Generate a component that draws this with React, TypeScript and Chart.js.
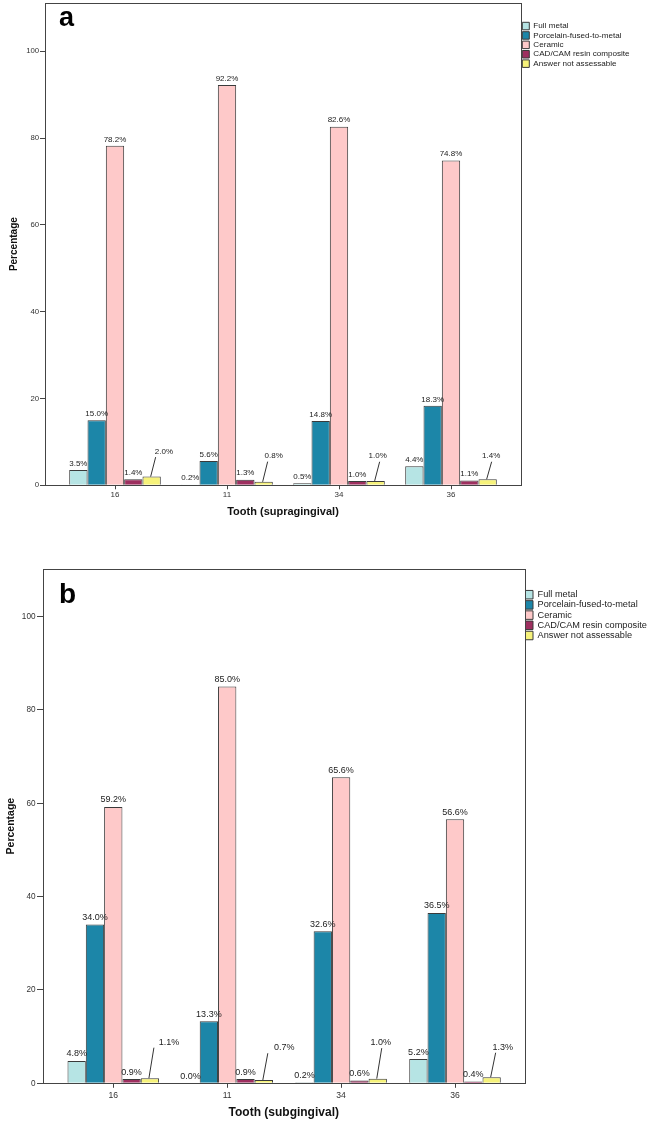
import React, { useEffect, useRef } from "react";
import { Chart, registerables } from "chart.js";

Chart.register(...registerables);
Chart.defaults.font.family = '"Liberation Sans", Arial, Helvetica, sans-serif';

// ---------- data ----------
const teeth = ["16", "11", "34", "36"];
const seriesNames = [
  "Full metal",
  "Porcelain-fused-to-metal",
  "Ceramic",
  "CAD/CAM resin composite",
  "Answer not assessable",
];
const yTickValues = [0, 20, 40, 60, 80, 100];

// panel a: supragingival
const supraFullMetal = [3.5, 0.2, 0.5, 4.4];
const supraPFM = [15.0, 5.6, 14.8, 18.3];
const supraCeramic = [78.2, 92.2, 82.6, 74.8];
const supraCadCam = [1.4, 1.3, 1.0, 1.1];
const supraNotAssessable = [2.0, 0.8, 1.0, 1.4];

// panel b: subgingival
const subFullMetal = [4.8, 0.0, 0.2, 5.2];
const subPFM = [34.0, 13.3, 32.6, 36.5];
const subCeramic = [59.2, 85.0, 65.6, 56.6];
const subCadCam = [0.9, 0.9, 0.6, 0.4];
const subNotAssessable = [1.1, 0.7, 1.0, 1.3];

// ---------- styles ----------
const seriesColors = ["#b6e4e4", "#1c86a8", "#fec9c9", "#9d2f5f", "#f6f27a"];
const outline = "#3a3a3a";
const textDark = "#222";

type Panel = {
  letter: string;
  xTitle: string;
  series: number[][];
  canvasW: number;
  canvasH: number;
  top: number;
  frameLeft: number;
  frameRight: number;
  frameBottom: number;
  xMin: number;
  xMax: number;
  yMax: number;
  catPct: number;
  tickFontX: number;
  tickFontY: number;
  xTickPad: number;
  xTickLen: number;
  yTickPad: number;
  yTickLen: number;
  xTitleFont: number;
  xTitlePadBottom: number;
  yTitleFont: number;
  yTitlePadTop: number;
  labelFont: number;
  labelGap: number;
  legendFont: number;
  legendPad: number;
  legendBoxW: number;
  legendBoxH: number;
  legendTitleH: number;
  callouts: number[][];
  letterFont: number;
  letterX: number;
  letterY: number;
};

const panelA: Panel = {
  letter: "a",
  xTitle: "Tooth (supragingival)",
  series: [supraFullMetal, supraPFM, supraCeramic, supraCadCam, supraNotAssessable],
  canvasW: 660,
  canvasH: 530,
  top: 3,
  frameLeft: 45,
  frameRight: 521,
  frameBottom: 485.3,
  xMin: -0.625,
  xMax: 3.625,
  yMax: 111.1,
  catPct: 0.818,
  tickFontX: 8,
  tickFontY: 7.8,
  xTickPad: 0.8,
  xTickLen: 4,
  yTickPad: 0.8,
  yTickLen: 5,
  xTitleFont: 11,
  xTitlePadBottom: 11.4,
  yTitleFont: 10,
  yTitlePadTop: 8,
  labelFont: 8,
  labelGap: 6.5,
  legendFont: 8.1,
  legendPad: 1.3,
  legendBoxW: 7,
  legendBoxH: 7.5,
  legendTitleH: 17.7,
  callouts: [
    [12.3, -25],
    [10, -25.7],
    [2, -24.7],
    [3.5, -23],
  ],
  letterFont: 27,
  letterX: 59,
  letterY: 26,
};

const panelB: Panel = {
  letter: "b",
  xTitle: "Tooth (subgingival)",
  series: [subFullMetal, subPFM, subCeramic, subCadCam, subNotAssessable],
  canvasW: 660,
  canvasH: 584,
  top: 29,
  frameLeft: 43,
  frameRight: 524.5,
  frameBottom: 543.3,
  xMin: -0.617,
  xMax: 3.61,
  yMax: 110.2,
  catPct: 0.804,
  tickFontX: 8.6,
  tickFontY: 8.2,
  xTickPad: 2.2,
  xTickLen: 4.5,
  yTickPad: 1.5,
  yTickLen: 6,
  xTitleFont: 12,
  xTitlePadBottom: 3.8,
  yTitleFont: 10.5,
  yTitlePadTop: 4.7,
  labelFont: 9,
  labelGap: 7,
  legendFont: 9.2,
  legendPad: 1.0,
  legendBoxW: 7.5,
  legendBoxH: 8.5,
  legendTitleH: 20.1,
  callouts: [
    [19, -36],
    [20.5, -32.3],
    [3, -36],
    [11, -30],
  ],
  letterFont: 28,
  letterX: 59,
  letterY: 63,
};

function makeChart(canvas: HTMLCanvasElement, cfg: Panel) {
  const decorPlugin = {
    id: "decor" + cfg.letter,
    afterDatasetsDraw(chart: any) {
      const ctx = chart.ctx;
      const area = chart.chartArea;
      ctx.save();
      // frame
      ctx.strokeStyle = "#444";
      ctx.lineWidth = 1;
      ctx.strokeRect(
        Math.round(area.left) + 0.5,
        Math.round(area.top) + 0.5,
        Math.round(area.right) - Math.round(area.left),
        Math.round(area.bottom) - Math.round(area.top)
      );
      // value labels
      ctx.font = `${cfg.labelFont}px "Liberation Sans", Arial, sans-serif`;
      ctx.fillStyle = textDark;
      ctx.textAlign = "center";
      ctx.textBaseline = "middle";
      chart.data.datasets.forEach((_ds: any, k: number) => {
        const meta = chart.getDatasetMeta(k);
        meta.data.forEach((el: any, i: number) => {
          const v = cfg.series[k][i];
          const text = v.toFixed(1) + "%";
          const x = el.x;
          const y = el.y;
          if (k === 4) {
            const [dx, dy] = cfg.callouts[i];
            const lx = x + dx;
            const ly = y + dy;
            ctx.strokeStyle = "#333";
            ctx.lineWidth = 1;
            ctx.beginPath();
            ctx.moveTo(x - 1, y);
            ctx.lineTo(x + 4, ly + 5.5);
            ctx.stroke();
            ctx.fillText(text, lx, ly);
          } else {
            ctx.fillText(text, x, y - cfg.labelGap);
          }
        });
      });
      // panel letter
      ctx.font = `bold ${cfg.letterFont}px "Liberation Sans", Arial, sans-serif`;
      ctx.fillStyle = "#000";
      ctx.textAlign = "left";
      ctx.textBaseline = "alphabetic";
      ctx.fillText(cfg.letter, cfg.letterX, cfg.letterY);
      ctx.restore();
    },
  };

  const chart = new Chart(canvas, {
    type: "bar",
    data: {
      datasets: seriesNames.map((name, k) => ({
        label: name,
        data: cfg.series[k].map((v, i) => ({ x: i, y: v })),
        backgroundColor: seriesColors[k],
        borderColor: outline,
        borderWidth: 1,
        categoryPercentage: cfg.catPct,
        barPercentage: 1,
      })),
    },
    options: {
      responsive: false,
      animation: false,
      devicePixelRatio: 1,
      events: [],
      layout: { padding: { left: 0, top: cfg.top, right: 0, bottom: 0 } },
      scales: {
        x: {
          type: "linear",
          min: cfg.xMin,
          max: cfg.xMax,
          offset: false,
          grid: {
            display: true,
            offset: false,
            drawOnChartArea: false,
            drawTicks: true,
            tickLength: cfg.xTickLen,
            color: "#444",
            lineWidth: 1,
          },
          border: { display: false },
          ticks: {
            autoSkip: false,
            maxRotation: 0,
            padding: cfg.xTickPad,
            color: "#333",
            font: { size: cfg.tickFontX },
            callback: (v: any) => teeth[v] ?? "",
          },
          title: {
            display: true,
            text: cfg.xTitle,
            color: "#111",
            font: { size: cfg.xTitleFont, weight: "bold" },
            padding: { top: 0, bottom: cfg.xTitlePadBottom },
          },
          afterBuildTicks: (s: any) => {
            s.ticks = teeth.map((_t, i) => ({ value: i }));
          },
          afterFit: (s: any) => {
            s.height = cfg.canvasH - cfg.frameBottom;
            s.paddingLeft = 0;
            s.paddingRight = 0;
          },
        },
        y: {
          type: "linear",
          min: 0,
          max: cfg.yMax,
          grid: {
            display: true,
            drawOnChartArea: false,
            drawTicks: true,
            tickLength: cfg.yTickLen,
            color: "#444",
            lineWidth: 1,
          },
          border: { display: false },
          ticks: {
            padding: cfg.yTickPad,
            color: "#333",
            font: { size: cfg.tickFontY },
          },
          title: {
            display: true,
            text: "Percentage",
            color: "#111",
            font: { size: cfg.yTitleFont, weight: "bold" },
            padding: { top: cfg.yTitlePadTop, bottom: 0 },
          },
          afterBuildTicks: (s: any) => {
            s.ticks = yTickValues.map((v) => ({ value: v }));
          },
          afterFit: (s: any) => {
            s.width = cfg.frameLeft;
            s.paddingTop = 0;
            s.paddingBottom = 0;
          },
        },
      },
      plugins: {
        tooltip: { enabled: false },
        legend: {
          display: true,
          position: "right",
          align: "start",
          title: {
            display: true,
            text: " ",
            font: { size: 10, lineHeight: 1 },
            padding: { top: cfg.legendTitleH - 10, bottom: 0 },
          },
          labels: {
            boxWidth: cfg.legendBoxW,
            boxHeight: cfg.legendBoxH,
            padding: cfg.legendPad,
            color: textDark,
            font: { size: cfg.legendFont },
          },
        },
      },
    } as any,
    plugins: [decorPlugin],
  });

  // align the plot frame's right edge with the reference
  const diff = chart.chartArea.right - cfg.frameRight;
  if (Math.abs(diff) > 0.01) {
    (chart.options as any).layout.padding.right = Math.max(0, diff);
    chart.update();
  }
  return chart;
}

export default function App() {
  const refA = useRef<HTMLCanvasElement>(null);
  const refB = useRef<HTMLCanvasElement>(null);

  useEffect(() => {
    const a = makeChart(refA.current as HTMLCanvasElement, panelA);
    const b = makeChart(refB.current as HTMLCanvasElement, panelB);
    return () => {
      a.destroy();
      b.destroy();
    };
  }, []);

  return (
    <div
      style={{
        position: "absolute",
        left: 0,
        top: 0,
        width: 649,
        height: 1124,
        overflow: "hidden",
        background: "#fff",
      }}
    >
      <canvas
        ref={refA}
        width={panelA.canvasW}
        height={panelA.canvasH}
        style={{ position: "absolute", left: 0, top: 0 }}
      />
      <canvas
        ref={refB}
        width={panelB.canvasW}
        height={panelB.canvasH}
        style={{ position: "absolute", left: 0, top: 540 }}
      />
    </div>
  );
}
